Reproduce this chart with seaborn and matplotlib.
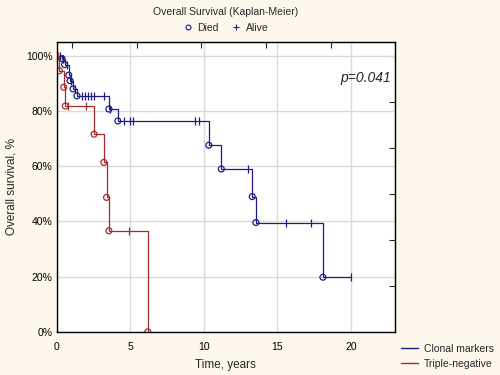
import seaborn as sns
import matplotlib.pyplot as plt
from matplotlib.lines import Line2D
import pandas as pd

# step curves (time in years, survival %)
clonal_t = [0, 0.37, 0.55, 0.83, 0.92, 1.12, 1.39, 3.56, 4.17, 10.35, 11.2, 13.3, 13.55, 18.1, 20.0]
clonal_s = [100, 99, 96.8, 93, 91, 88, 85.5, 80.7, 76.4, 67.6, 59, 49, 39.6, 19.8, 19.8]
clonal_cens_t = [0.25, 0.45, 0.7, 1.0, 1.25, 1.73, 1.93, 2.14, 2.34, 2.54, 3.2, 3.65, 4.6, 5.0, 5.2, 9.4, 9.7, 13.0, 15.6, 17.3, 20.0]
clonal_cens_s = [100, 99, 96.8, 91, 88, 85.5, 85.5, 85.5, 85.5, 85.5, 85.5, 80.7, 76.4, 76.4, 76.4, 76.4, 76.4, 59, 39.6, 39.6, 19.8]

tneg_t = [0, 0.19, 0.49, 0.6, 2.55, 3.22, 3.4, 3.56, 6.2]
tneg_s = [100, 94.6, 88.6, 81.8, 71.6, 61.4, 48.7, 36.6, 0]
tneg_cens_t = [0.12, 0.78, 2.0, 4.9]
tneg_cens_s = [100, 81.8, 81.8, 36.6]

bg = '#FDF8EB'
blue = '#1C1C82'
red = '#A62A2A'

curves = pd.DataFrame({
    'Time': clonal_t + tneg_t,
    'Surv': clonal_s + tneg_s,
    'Group': ['Clonal markers'] * len(clonal_t) + ['Triple-negative'] * len(tneg_t),
})
died = pd.DataFrame({
    'Time': clonal_t[1:-1] + tneg_t[1:],
    'Surv': clonal_s[1:-1] + tneg_s[1:],
    'Group': ['Clonal markers'] * (len(clonal_t) - 2) + ['Triple-negative'] * (len(tneg_t) - 1),
})
alive = pd.DataFrame({
    'Time': clonal_cens_t + tneg_cens_t,
    'Surv': clonal_cens_s + tneg_cens_s,
    'Group': ['Clonal markers'] * len(clonal_cens_t) + ['Triple-negative'] * len(tneg_cens_t),
})
palette = {'Clonal markers': blue, 'Triple-negative': red}

sns.set_style('white')
plt.rcParams['font.family'] = ['Liberation Sans', 'DejaVu Sans']

fig = plt.figure(figsize=(5, 3.75), dpi=100, facecolor=bg)
ax = fig.add_axes([0.113, 0.115, 0.677, 0.773])
ax.set_facecolor('white')

sns.lineplot(data=curves, x='Time', y='Surv', hue='Group', palette=palette, ax=ax,
             drawstyle='steps-post', sort=False, estimator=None, linewidth=0.9, legend=False)
sns.scatterplot(data=died, x='Time', y='Surv', hue='Group', palette=palette, ax=ax,
                marker='o', s=18, linewidth=0.9, legend=False)
# open circles for deaths
ax.collections[0].set_edgecolor([blue if g == 'Clonal markers' else red for g in died['Group']])
ax.collections[0].set_facecolor('none')
for g, c in palette.items():
    sub = alive[alive['Group'] == g]
    ax.scatter(sub['Time'], sub['Surv'], marker='|', s=30, color=c, linewidths=0.9, zorder=3)

ax.set_xlim(0, 23)
ax.set_ylim(0, 105)
ax.set_xticks([0, 5, 10, 15, 20])
ax.set_yticks([0, 20, 40, 60, 80, 100])
ax.set_yticklabels([f'{v}%' for v in [0, 20, 40, 60, 80, 100]])
ax.grid(True, color='#D9D9D9', linewidth=1)
ax.set_axisbelow(True)
ax.tick_params(direction='in', length=4, labelsize=7.5, colors='black', pad=3)
ax.tick_params(axis='x', pad=7)
for sp in ax.spines.values():
    sp.set_color('black')
    sp.set_linewidth(1)

secx = ax.secondary_xaxis('top')
secx.set_xticks([1.05, 5.45, 9.85, 14.25, 18.65, 23])
secx.set_xticklabels([])
secx.tick_params(direction='in', length=4)
secy = ax.secondary_yaxis('right')
secy.set_yticks([16.7, 33.3, 50, 66.7, 83.3, 100])
secy.set_yticklabels([])
secy.tick_params(direction='in', length=4)

ax.set_xlabel('Time, years', fontsize=8.5, labelpad=5)
ax.set_ylabel('Overall survival, %', fontsize=8.5, labelpad=6)

ax.text(19.3, 92, 'p=0.041', fontsize=10, style='italic', ha='left', va='center')

fig.text(0.451, 0.968, 'Overall Survival (Kaplan-Meier)', fontsize=7.5, ha='center', va='center')
top_handles = [
    Line2D([], [], linestyle='none', marker='o', markersize=3.5, markerfacecolor='none',
           markeredgecolor=blue, markeredgewidth=0.8),
    Line2D([], [], linestyle='none', marker='+', markersize=5, color=blue, markeredgewidth=0.8),
]
fig.legend(top_handles, ['Died', 'Alive'], loc='center', bbox_to_anchor=(0.451, 0.925),
           ncol=2, frameon=False, fontsize=7.5, handletextpad=0.4, columnspacing=1.2,
           handlelength=1.0)

bot_handles = [Line2D([], [], color=blue, linewidth=1), Line2D([], [], color=red, linewidth=1)]
fig.legend(bot_handles, ['Clonal markers', 'Triple-negative'], loc='center left',
           bbox_to_anchor=(0.79, 0.05), frameon=False, fontsize=7.5, handlelength=1.6,
           handletextpad=0.6, labelspacing=0.45, borderaxespad=0.2)

plt.savefig('out.png', dpi=100, facecolor=bg)
